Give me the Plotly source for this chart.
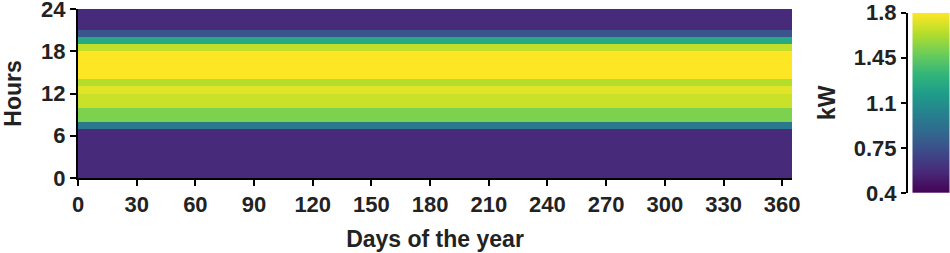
import plotly.graph_objects as go

# ---- data ----
day_edges = list(range(0, 366))          # day bins 0..365
hour_edges = list(range(0, 25))          # hour bins 0..24
hourly_kw = [0.57, 0.57, 0.57, 0.57, 0.57, 0.57, 0.57,   # 0-6
             0.96,                                        # 7
             1.52, 1.52,                                  # 8-9
             1.69, 1.69,                                  # 10-11
             1.74,                                        # 12
             1.64,                                        # 13
             1.80, 1.80, 1.80, 1.80,                      # 14-17
             1.67,                                        # 18
             1.24,                                        # 19
             0.77,                                        # 20
             0.57, 0.57, 0.57]                            # 21-23
x_ticks = [0, 30, 60, 90, 120, 150, 180, 210, 240, 270, 300, 330, 360]
y_ticks = [0, 6, 12, 18, 24]
cbar_ticks = [0.4, 0.75, 1.1, 1.45, 1.8]
cbar_ticktext = ["0.4", "0.75", "1.1", "1.45", "1.8"]
zmin, zmax = 0.4, 1.8

n_days = len(day_edges) - 1
z = [[v] * n_days for v in hourly_kw]

FONT = "Liberation Sans, Arial, sans-serif"
TXT = "#222222"

fig = go.Figure()
fig.add_trace(go.Heatmap(
    x=day_edges, y=hour_edges, z=z,
    colorscale="Viridis", zmin=zmin, zmax=zmax,
    showscale=False, xaxis="x", yaxis="y", hoverinfo="skip"))

# colour bar drawn as a heatmap on its own axes (labels on the left)
fig.add_trace(go.Heatmap(
    x=[0, 1], y=[zmin, zmax], z=[[zmin], [zmax]],
    colorscale="Viridis", zmin=zmin, zmax=zmax, zsmooth="best",
    showscale=False, xaxis="x2", yaxis="y2", hoverinfo="skip"))

W, H = 950, 253
L, R, T, B = 78, 0, 9, 60
pw = W - L - R
ph = H - T - B

def px_x(p):
    return (p - L) / pw

def px_y(p):
    return (H - B - p) / ph

tickfont = dict(family=FONT, size=22, color=TXT, weight="bold")
titlefont = dict(family=FONT, size=23, color=TXT, weight="bold")

fig.update_layout(
    width=W, height=H,
    margin=dict(l=L, r=R, t=T, b=B, autoexpand=False),
    paper_bgcolor="white", plot_bgcolor="white",
    showlegend=False,
    xaxis=dict(
        domain=[0, px_x(792)], anchor="y", automargin=False,
        range=[0, 365], tickvals=x_ticks, ticklabeloverflow="allow",
        ticks="outside", ticklen=6, tickwidth=2, tickcolor="black",
        showline=True, linewidth=2, linecolor="black",
        showgrid=False, zeroline=False, tickfont=tickfont,
        title=dict(text="Days of the year", font=titlefont, standoff=14)),
    yaxis=dict(
        domain=[px_y(178), px_y(9)], anchor="x", automargin=False,
        range=[0, 24.001], tickvals=y_ticks, ticklabeloverflow="allow",
        ticks="outside", ticklen=6, tickwidth=2, tickcolor="black",
        showline=True, linewidth=2, linecolor="black",
        showgrid=False, zeroline=False, tickfont=tickfont,
        title=dict(text="Hours", font=titlefont, standoff=14)),
    xaxis2=dict(
        domain=[px_x(908), 1], anchor="y2",
        range=[-0.12, 1], visible=False, fixedrange=True),
    yaxis2=dict(
        domain=[0, px_y(12.7)], anchor="x2", side="left", automargin=False,
        range=[zmin, zmax], tickvals=cbar_ticks, ticktext=cbar_ticktext,
        ticklabeloverflow="allow",
        ticks="outside", ticklen=5, tickwidth=2, tickcolor="black",
        showline=True, linewidth=2, linecolor="black",
        showgrid=False, zeroline=False, tickfont=tickfont,
        title=dict(text="kW", font=titlefont, standoff=12)),
)

fig.write_html(
    "out.html",
    config={"displayModeBar": False},
    post_script="document.body.style.margin='0';document.body.style.padding='0';",
)
